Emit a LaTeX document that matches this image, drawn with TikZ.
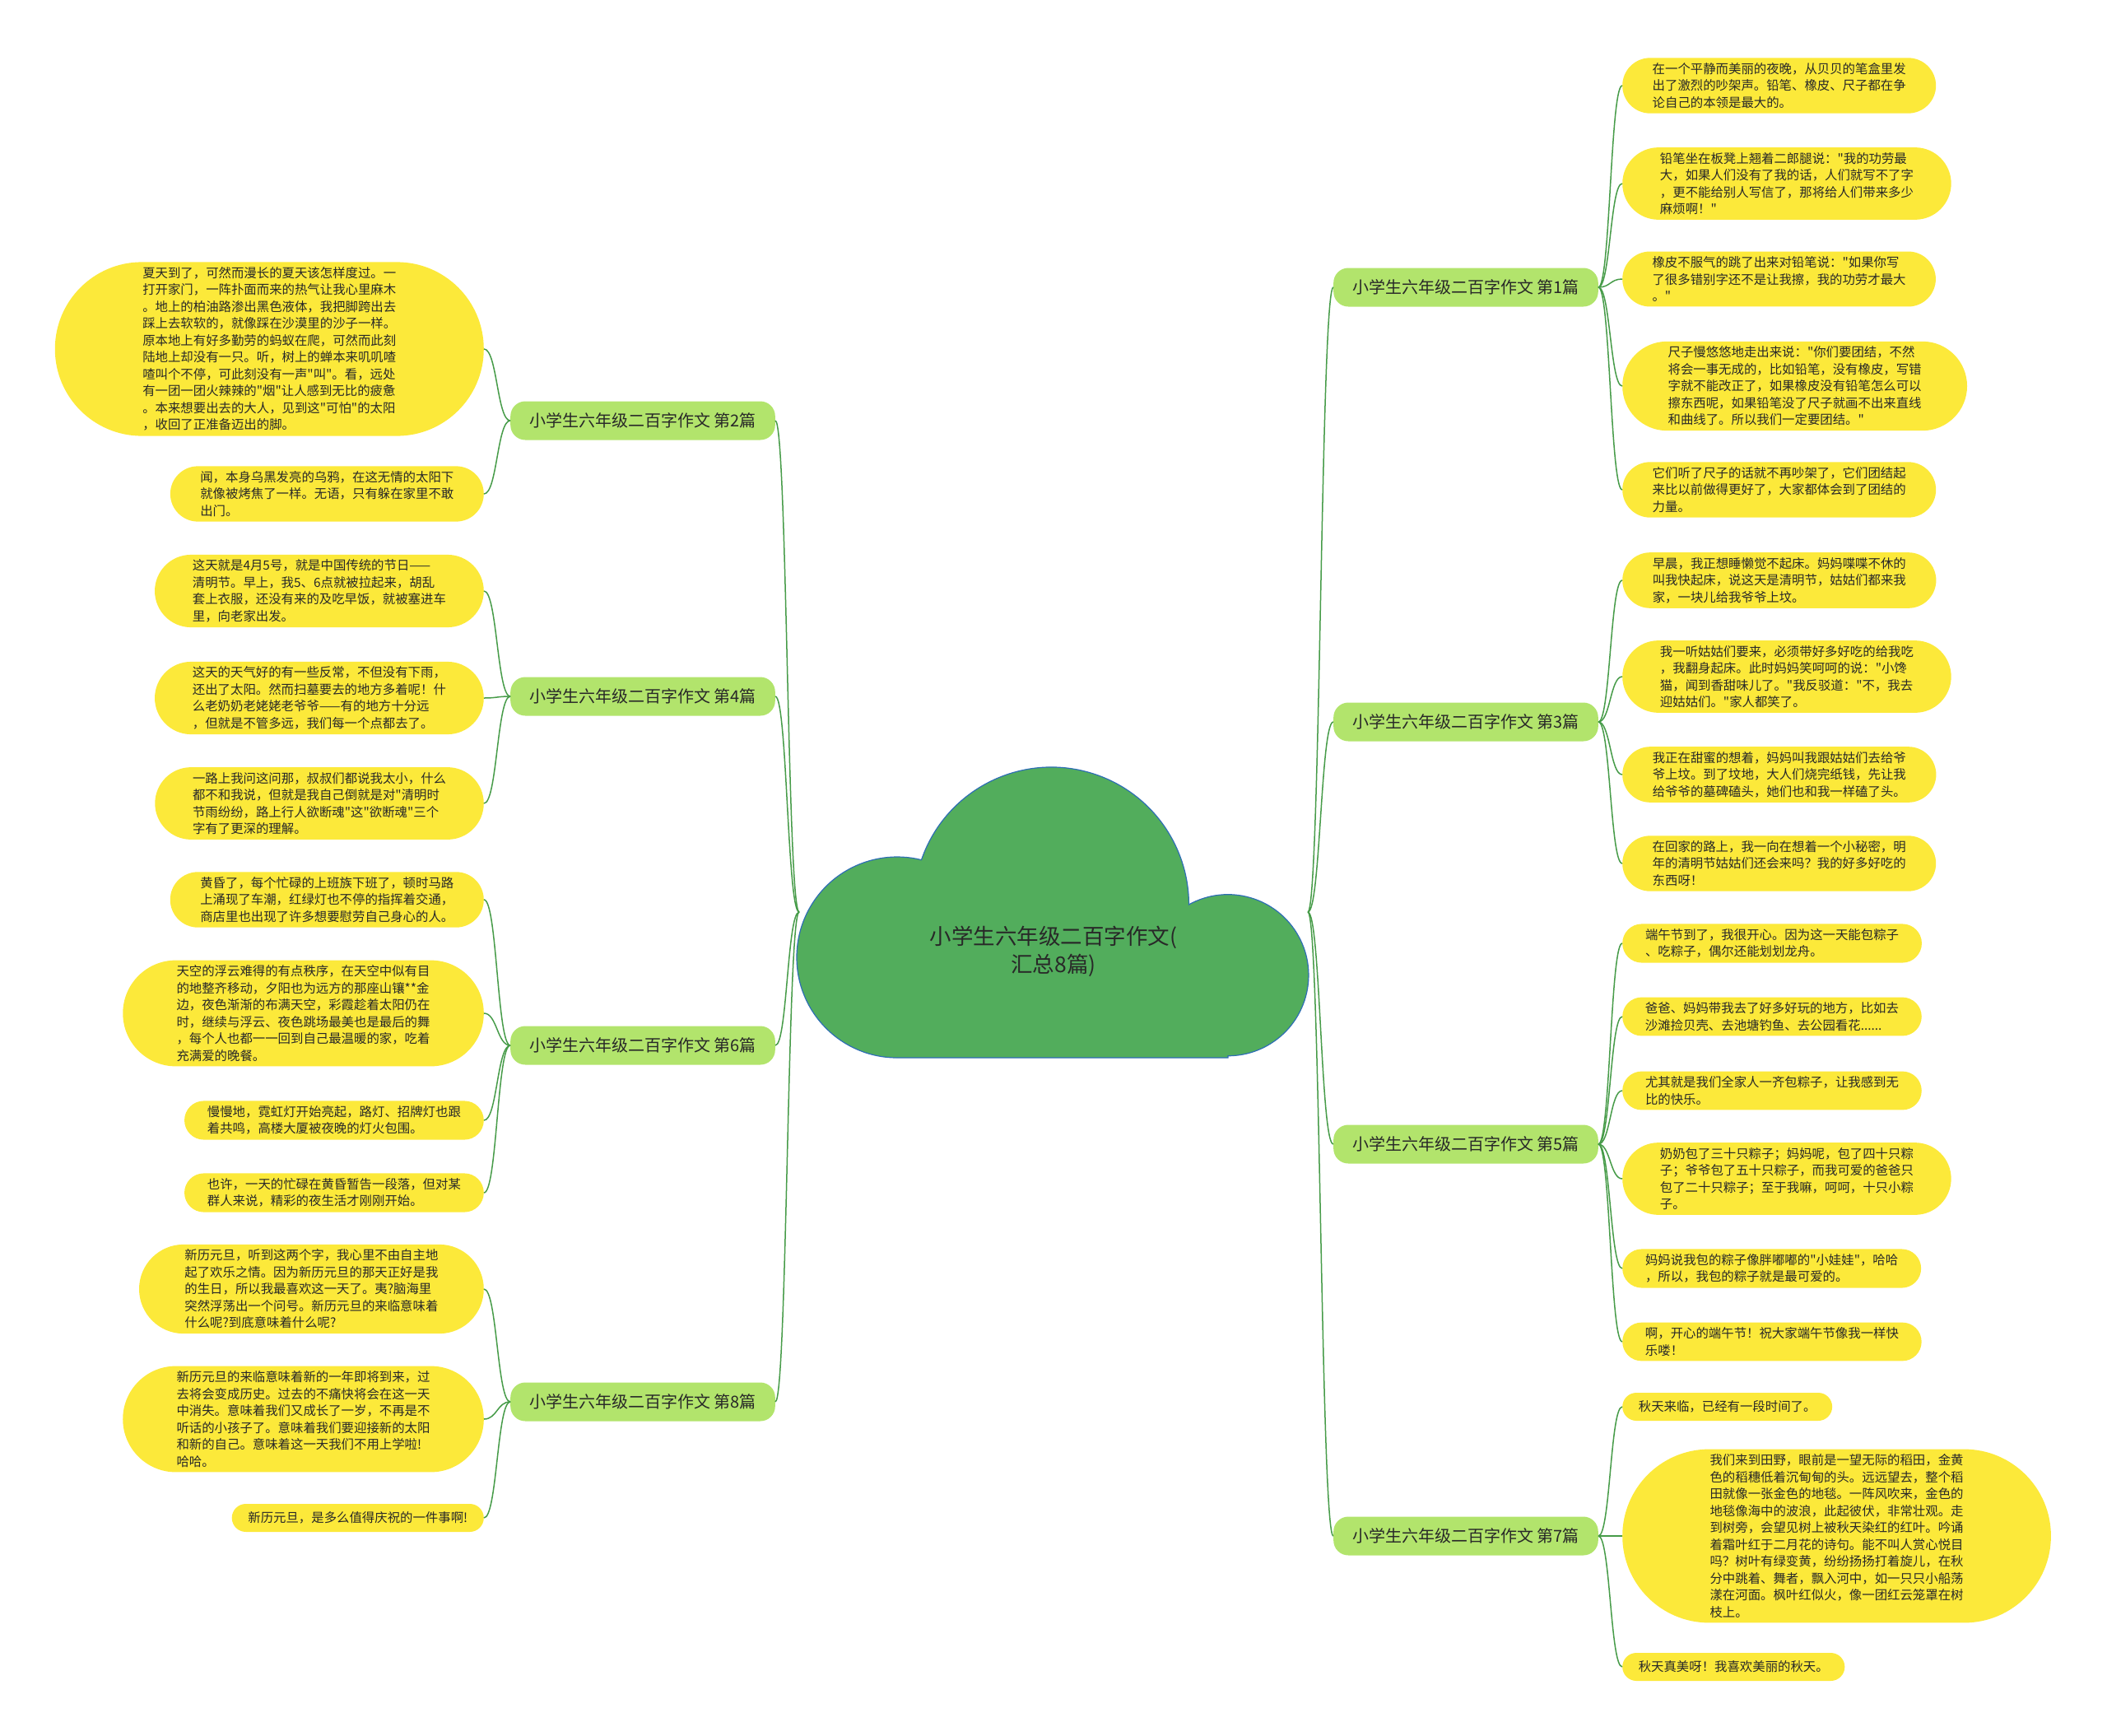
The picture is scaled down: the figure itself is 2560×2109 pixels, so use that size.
\documentclass[tikz,border=0pt]{standalone}
\usepackage{fontspec}
\setmainfont{Noto Sans CJK SC}[Ligatures=TeXOff]
\usetikzlibrary{shapes,calc}
\definecolor{cloudgreen}{RGB}{82,173,92}
\definecolor{cloudblue}{RGB}{46,110,180}
\definecolor{branchgreen}{RGB}{178,228,108}
\definecolor{leafyellow}{RGB}{252,233,58}
\definecolor{linegreen}{RGB}{70,155,72}
\definecolor{textgray}{RGB}{40,40,40}
\newcommand{\leaffont}{\fontsize{15.4}{20.5}\selectfont}
\newcommand{\branchfont}{\fontsize{20}{24}\selectfont}
\newcommand{\rootfont}{\fontsize{26.5}{34}\selectfont}
\tikzset{leaf/.style={rounded rectangle, fill=leafyellow, text=textgray, inner xsep=#1, inner ysep=6pt, minimum height=34pt, align=left, font=\leaffont}, leaf/.default=22pt}

\begin{document}
\begin{tikzpicture}[x=1pt, y=-1pt]
  % Styles
  \tikzstyle{root} = [align=center, text=textgray, font=\rootfont]
  \tikzstyle{topic} = [rectangle, rounded corners=18pt, fill=branchgreen, text=textgray, minimum height=47pt, inner xsep=23pt, font=\branchfont]
  \tikzstyle{link} = [draw=linegreen, line width=1.5pt, to path={let \p1=(\tikztostart), \p2=(\tikztotarget) in .. controls ({(\x1+\x2)/2},\y1) and ({(\x1+\x2)/2},\y2) .. (\tikztotarget)}]

  \useasboundingbox (0,0) rectangle (2560,2109);

  % Cloud
  \path[fill=cloudgreen, draw=cloudblue, line width=1.2pt] (1492,1285) -- (1090,1285)
    arc[start angle=270, end angle=76, radius=122pt]
    arc[start angle=161, end angle=0, radius=167pt]
    arc[start angle=119, end angle=-90, radius=98pt] -- cycle;
  \node[root] (root) at (1280,1156) {小学生六年级二百字作文(\\汇总8篇)};
  \coordinate (rootL) at (971,1108);
  \coordinate (rootR) at (1589,1108);

  % Topics
  \node[topic, anchor=west] (p1) at (1620,349) {小学生六年级二百字作文 第1篇};
  \node[topic, anchor=east] (p2) at (942,511) {小学生六年级二百字作文 第2篇};
  \node[topic, anchor=west] (p3) at (1620,877) {小学生六年级二百字作文 第3篇};
  \node[topic, anchor=east] (p4) at (942,846) {小学生六年级二百字作文 第4篇};
  \node[topic, anchor=west] (p5) at (1620,1390) {小学生六年级二百字作文 第5篇};
  \node[topic, anchor=east] (p6) at (942,1270) {小学生六年级二百字作文 第6篇};
  \node[topic, anchor=west] (p7) at (1620,1866) {小学生六年级二百字作文 第7篇};
  \node[topic, anchor=east] (p8) at (942,1703) {小学生六年级二百字作文 第8篇};

  % Left leaves
  \node[leaf=36pt, anchor=east] (p2a) at (588,424) {夏天到了，可然而漫长的夏天该怎样度过。一\\打开家门，一阵扑面而来的热气让我心里麻木\\。地上的柏油路渗出黑色液体，我把脚跨出去\\踩上去软软的，就像踩在沙漠里的沙子一样。\\原本地上有好多勤劳的蚂蚁在爬，可然而此刻\\陆地上却没有一只。听，树上的蝉本来叽叽喳\\喳叫个不停，可此刻没有一声"叫"。看，远处\\有一团一团火辣辣的"烟"让人感到无比的疲惫\\。本来想要出去的大人，见到这"可怕"的太阳\\，收回了正准备迈出的脚。};
  \node[leaf, anchor=east] (p2b) at (588,600) {闻，本身乌黑发亮的乌鸦，在这无情的太阳下\\就像被烤焦了一样。无语，只有躲在家里不敢\\出门。};
  \node[leaf=24pt, anchor=east] (p4a) at (588,718) {这天就是4月5号，就是中国传统的节日——\\清明节。早上，我5、6点就被拉起来，胡乱\\套上衣服，还没有来的及吃早饭，就被塞进车\\里，向老家出发。};
  \node[leaf=24pt, anchor=east] (p4b) at (588,848) {这天的天气好的有一些反常，不但没有下雨，\\还出了太阳。然而扫墓要去的地方多着呢！什\\么老奶奶老姥姥老爷爷——有的地方十分远\\，但就是不管多远，我们每一个点都去了。};
  \node[leaf=24pt, anchor=east] (p4c) at (588,976) {一路上我问这问那，叔叔们都说我太小，什么\\都不和我说，但就是我自己倒就是对"清明时\\节雨纷纷，路上行人欲断魂"这"欲断魂"三个\\字有了更深的理解。};
  \node[leaf, anchor=east] (p6a) at (588,1093) {黄昏了，每个忙碌的上班族下班了，顿时马路\\上涌现了车潮，红绿灯也不停的指挥着交通，\\商店里也出现了许多想要慰劳自己身心的人。};
  \node[leaf=28pt, anchor=east] (p6b) at (588,1231) {天空的浮云难得的有点秩序，在天空中似有目\\的地整齐移动，夕阳也为远方的那座山镶**金\\边，夜色渐渐的布满天空，彩霞趁着太阳仍在\\时，继续与浮云、夜色跳场最美也是最后的舞\\，每个人也都一一回到自己最温暖的家，吃着\\充满爱的晚餐。};
  \node[leaf=20pt, anchor=east] (p6c) at (588,1361) {慢慢地，霓虹灯开始亮起，路灯、招牌灯也跟\\着共鸣，高楼大厦被夜晚的灯火包围。};
  \node[leaf=20pt, anchor=east] (p6d) at (588,1449) {也许，一天的忙碌在黄昏暂告一段落，但对某\\群人来说，精彩的夜生活才刚刚开始。};
  \node[leaf=26pt, anchor=east] (p8a) at (588,1566) {新历元旦，听到这两个字，我心里不由自主地\\起了欢乐之情。因为新历元旦的那天正好是我\\的生日，所以我最喜欢这一天了。夷?脑海里\\突然浮荡出一个问号。新历元旦的来临意味着\\什么呢?到底意味着什么呢?};
  \node[leaf=28pt, anchor=east] (p8b) at (588,1724) {新历元旦的来临意味着新的一年即将到来，过\\去将会变成历史。过去的不痛快将会在这一天\\中消失。意味着我们又成长了一岁，不再是不\\听话的小孩子了。意味着我们要迎接新的太阳\\和新的自己。意味着这一天我们不用上学啦!\\哈哈。};
  \node[leaf=18pt, anchor=east] (p8c) at (588,1844) {新历元旦，是多么值得庆祝的一件事啊!};

  % Right leaves
  \node[leaf, anchor=west] (p1a) at (1971,104) {在一个平静而美丽的夜晚，从贝贝的笔盒里发\\出了激烈的吵架声。铅笔、橡皮、尺子都在争\\论自己的本领是最大的。};
  \node[leaf=24pt, anchor=west] (p1b) at (1971,223) {铅笔坐在板凳上翘着二郎腿说："我的功劳最\\大，如果人们没有了我的话，人们就写不了字\\，更不能给别人写信了，那将给人们带来多少\\麻烦啊！"};
  \node[leaf, anchor=west] (p1c) at (1971,339) {橡皮不服气的跳了出来对铅笔说："如果你写\\了很多错别字还不是让我擦，我的功劳才最大\\。"};
  \node[leaf=26pt, anchor=west] (p1d) at (1971,469) {尺子慢悠悠地走出来说："你们要团结，不然\\将会一事无成的，比如铅笔，没有橡皮，写错\\字就不能改正了，如果橡皮没有铅笔怎么可以\\擦东西呢，如果铅笔没了尺子就画不出来直线\\和曲线了。所以我们一定要团结。"};
  \node[leaf, anchor=west] (p1e) at (1971,595) {它们听了尺子的话就不再吵架了，它们团结起\\来比以前做得更好了，大家都体会到了团结的\\力量。};
  \node[leaf, anchor=west] (p3a) at (1971,705) {早晨，我正想睡懒觉不起床。妈妈喋喋不休的\\叫我快起床，说这天是清明节，姑姑们都来我\\家，一块儿给我爷爷上坟。};
  \node[leaf=24pt, anchor=west] (p3b) at (1971,822) {我一听姑姑们要来，必须带好多好吃的给我吃\\，我翻身起床。此时妈妈笑呵呵的说："小馋\\猫，闻到香甜味儿了。"我反驳道："不，我去\\迎姑姑们。"家人都笑了。};
  \node[leaf, anchor=west] (p3c) at (1971,941) {我正在甜蜜的想着，妈妈叫我跟姑姑们去给爷\\爷上坟。到了坟地，大人们烧完纸钱，先让我\\给爷爷的墓碑磕头，她们也和我一样磕了头。};
  \node[leaf, anchor=west] (p3d) at (1971,1049) {在回家的路上，我一向在想着一个小秘密，明\\年的清明节姑姑们还会来吗？我的好多好吃的\\东西呀！};
  \node[leaf=20pt, anchor=west] (p5a) at (1971,1146) {端午节到了，我很开心。因为这一天能包粽子\\、吃粽子，偶尔还能划划龙舟。};
  \node[leaf=20pt, anchor=west] (p5b) at (1971,1235) {爸爸、妈妈带我去了好多好玩的地方，比如去\\沙滩捡贝壳、去池塘钓鱼、去公园看花......};
  \node[leaf=20pt, anchor=west] (p5c) at (1971,1325) {尤其就是我们全家人一齐包粽子，让我感到无\\比的快乐。};
  \node[leaf=24pt, anchor=west] (p5d) at (1971,1432) {奶奶包了三十只粽子；妈妈呢，包了四十只粽\\子；爷爷包了五十只粽子，而我可爱的爸爸只\\包了二十只粽子；至于我嘛，呵呵，十只小粽\\子。};
  \node[leaf=20pt, anchor=west] (p5e) at (1971,1541) {妈妈说我包的粽子像胖嘟嘟的"小娃娃"，哈哈\\，所以，我包的粽子就是最可爱的。};
  \node[leaf=20pt, anchor=west] (p5f) at (1971,1630) {啊，开心的端午节！祝大家端午节像我一样快\\乐喽！};
  \node[leaf=18pt, anchor=west] (p7a) at (1971,1709) {秋天来临，已经有一段时间了。};
  \node[leaf=36pt, anchor=west] (p7b) at (1971,1866) {我们来到田野，眼前是一望无际的稻田，金黄\\色的稻穗低着沉甸甸的头。远远望去，整个稻\\田就像一张金色的地毯。一阵风吹来，金色的\\地毯像海中的波浪，此起彼伏，非常壮观。走\\到树旁，会望见树上被秋天染红的红叶。吟诵\\着霜叶红于二月花的诗句。能不叫人赏心悦目\\吗？树叶有绿变黄，纷纷扬扬打着旋儿，在秋\\分中跳着、舞者，飘入河中，如一只只小船荡\\漾在河面。枫叶红似火，像一团红云笼罩在树\\枝上。};
  \node[leaf=18pt, anchor=west] (p7c) at (1971,2025) {秋天真美呀！我喜欢美丽的秋天。};

  % Edges
  \foreach \t in {p2,p4,p6,p8}
    \path[link] (rootL) to (\t.east);
  \foreach \t in {p1,p3,p5,p7}
    \path[link] (rootR) to (\t.west);
  \foreach \t/\l in {p2/p2a,p2/p2b,p4/p4a,p4/p4b,p4/p4c,p6/p6a,p6/p6b,p6/p6c,p6/p6d,p8/p8a,p8/p8b,p8/p8c}
    \path[link] (\t.west) to (\l.east);
  \foreach \t/\l in {p1/p1a,p1/p1b,p1/p1c,p1/p1d,p1/p1e,p3/p3a,p3/p3b,p3/p3c,p3/p3d,p5/p5a,p5/p5b,p5/p5c,p5/p5d,p5/p5e,p5/p5f,p7/p7a,p7/p7b,p7/p7c}
    \path[link] (\t.east) to (\l.west);

\end{tikzpicture}
\end{document}
